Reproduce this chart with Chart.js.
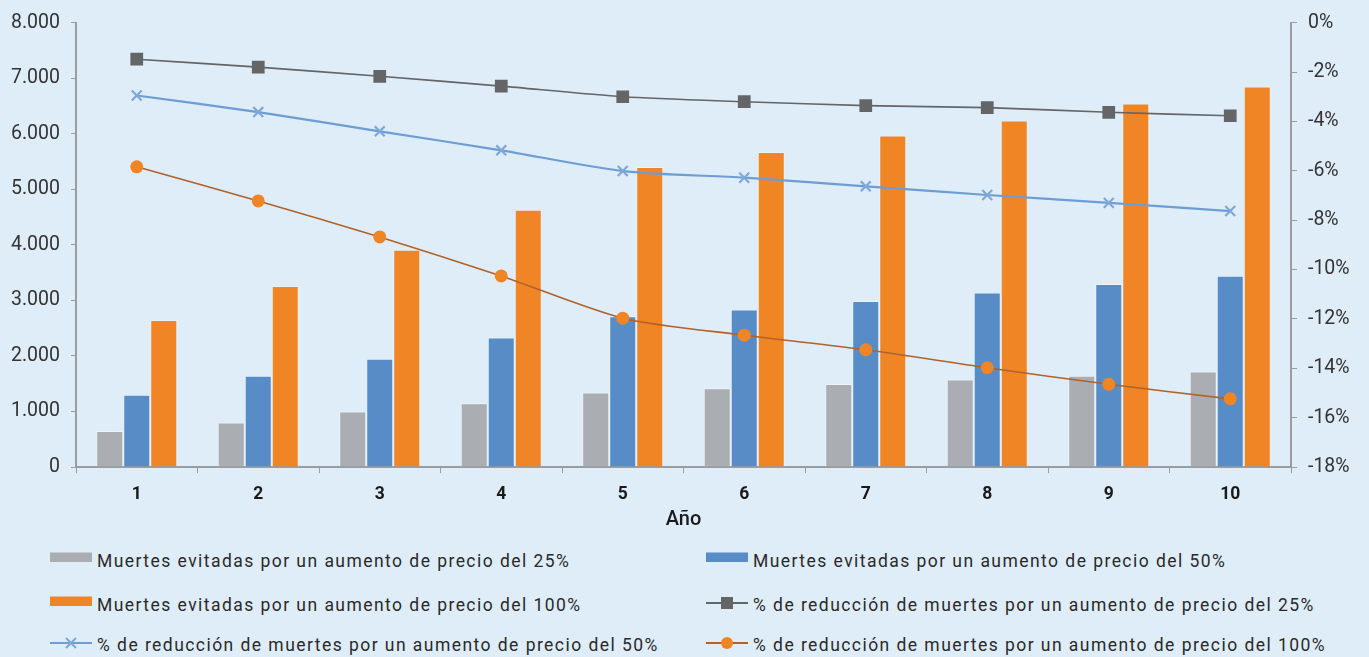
<!DOCTYPE html>
<html>
<head>
<meta charset="utf-8">
<script src="https://cdn.jsdelivr.net/npm/chart.js@4.4.1/dist/chart.umd.min.js"></script>
<style>
  html, body { margin:0; padding:0; background:#DFEDF8; }
  body { width:1369px; height:657px; position:relative; overflow:hidden; font-family:Roboto, "Noto Sans", sans-serif; }
  #wrap { position:absolute; left:0; top:0; width:1369px; height:540px; }
  .lg { position:absolute; height:20px; display:flex; align-items:center; font-size:17.5px; letter-spacing:1.45px; color:#2a2a2a; white-space:nowrap; }
  .lg svg { margin-right:5px; }
</style>
</head>
<body>
<div id="wrap"><canvas id="c"></canvas></div>
<div id="legend"></div>
<script>
const categories = ['1','2','3','4','5','6','7','8','9','10'];
const deaths25  = [650, 800, 1000, 1150, 1340, 1420, 1495, 1575, 1645, 1720];
const deaths50  = [1300, 1645, 1950, 2330, 2715, 2835, 2990, 3140, 3295, 3445];
const deaths100 = [2645, 3260, 3910, 4630, 5400, 5670, 5970, 6240, 6545, 6850];
const pct25  = [-1.48, -1.80, -2.17, -2.57, -3.00, -3.20, -3.36, -3.44, -3.63, -3.77];
const pct50  = [-2.95, -3.62, -4.40, -5.17, -6.01, -6.28, -6.63, -6.98, -7.30, -7.63];
const pct100 = [-5.84, -7.22, -8.68, -10.26, -11.97, -12.66, -13.25, -13.98, -14.65, -15.24];
const labels = [
  'Muertes evitadas por un aumento de precio del 25%',
  'Muertes evitadas por un aumento de precio del 50%',
  'Muertes evitadas por un aumento de precio del 100%',
  '% de reducción de muertes por un aumento de precio del 25%',
  '% de reducción de muertes por un aumento de precio del 50%',
  '% de reducción de muertes por un aumento de precio del 100%'
];

const cGray = '#AAADB1', cBlue = '#588CC6', cOrange = '#F08526';
const cLine25 = '#646567', cLine50 = '#6D9DD4', cLine100 = '#B0622A', cCross = '#7FA8DA';
const axisColor = '#9A9C9F';
const tickFont = { family: 'Roboto', size: 19.5 };

const barDs = (label, data, color) => ({
  type: 'bar', label, data, backgroundColor: color, borderColor: 'rgba(255,255,255,0.35)',
  borderWidth: 1, yAxisID: 'y', order: 2, categoryPercentage: 0.667, barPercentage: 1.0
});

new Chart(document.getElementById('c'), {
  data: {
    labels: categories,
    datasets: [
      barDs(labels[0], deaths25, cGray),
      barDs(labels[1], deaths50, cBlue),
      barDs(labels[2], deaths100, cOrange),
      { type:'line', label: labels[3], data: pct25, yAxisID:'y1', order:0,
        borderColor: cLine25, borderWidth: 1.6, tension: 0.25,
        pointStyle:'rect', pointRadius: 9, pointBackgroundColor: cLine25, pointBorderColor: cLine25, pointBorderWidth: 0 },
      { type:'line', label: labels[4], data: pct50, yAxisID:'y1', order:0,
        borderColor: cLine50, borderWidth: 2.2, tension: 0.25,
        pointStyle:'crossRot', pointRadius: 7, pointBorderColor: cCross, pointBorderWidth: 2.2 },
      { type:'line', label: labels[5], data: pct100, yAxisID:'y1', order:0,
        borderColor: cLine100, borderWidth: 1.6, tension: 0.25,
        pointStyle:'circle', pointRadius: 6.5, pointBackgroundColor: cOrange, pointBorderColor: cOrange, pointBorderWidth: 0 }
    ]
  },
  options: {
    responsive: true, maintainAspectRatio: false, animation: false,
    layout: { padding: { top: 20, left: 0, right: 0, bottom: 0 } },
    plugins: { legend: { display: false }, tooltip: { enabled: false } },
    scales: {
      x: {
        grid: { drawOnChartArea: false, drawTicks: true, tickLength: 6, color: axisColor, offset: true },
        border: { display: true, color: axisColor, width: 2 },
        ticks: { color: '#1a1a1a', font: { family:'Roboto', size: 17.5, weight: 'bold' }, padding: 11 },
        title: { display: true, text: 'Año', color: '#1a1a1a', font: { family:'Roboto', size: 20, weight: '500' }, padding: { top: 2, bottom: 8 } },
        afterFit: s => { s.height = 73; }
      },
      y: {
        position: 'left', min: 0, max: 8000,
        ticks: { stepSize: 1000, color: '#333', font: tickFont, padding: 11,
          callback: v => v === 0 ? '0' : (v/1000).toFixed(0) + '.000' },
        grid: { drawOnChartArea: false, drawTicks: true, tickLength: 5, color: axisColor },
        border: { display: true, color: axisColor, width: 2 },
        afterFit: s => { s.width = 76; }
      },
      y1: {
        position: 'right', min: -18, max: 0,
        ticks: { stepSize: 2, color: '#333', font: tickFont, padding: 11, callback: v => v + '%' },
        grid: { drawOnChartArea: false, drawTicks: true, tickLength: 6, color: axisColor },
        border: { display: true, color: axisColor, width: 2 },
        afterFit: s => { s.width = 78; }
      }
    }
  }
});

// HTML legend (two columns)
const markers = [
  `<svg width="42" height="20"><rect x="0" y="1.5" width="42" height="9.5" fill="${cGray}"/></svg>`,
  `<svg width="42" height="20"><rect x="0" y="1.5" width="42" height="9.5" fill="${cBlue}"/></svg>`,
  `<svg width="42" height="20"><rect x="0" y="1.5" width="42" height="9.5" fill="${cOrange}"/></svg>`,
  `<svg width="42" height="20"><line x1="0" y1="8" x2="42" y2="8" stroke="${cLine25}" stroke-width="2"/><rect x="15" y="2" width="12" height="12" fill="${cLine25}"/></svg>`,
  `<svg width="42" height="20"><line x1="0" y1="8" x2="42" y2="8" stroke="${cLine50}" stroke-width="2"/><path d="M16 3 L26 13 M26 3 L16 13" stroke="${cCross}" stroke-width="2"/></svg>`,
  `<svg width="42" height="20"><line x1="0" y1="8" x2="42" y2="8" stroke="${cLine100}" stroke-width="2"/><circle cx="21" cy="8" r="6" fill="${cOrange}"/></svg>`
];
const pos = [[50,551],[706,551],[50,595],[706,595],[50,635],[706,635]];
const legendEl = document.getElementById('legend');
labels.forEach((t, i) => {
  const d = document.createElement('div');
  d.className = 'lg';
  d.style.left = pos[i][0] + 'px';
  d.style.top = pos[i][1] + 'px';
  d.innerHTML = markers[i] + '<span>' + t + '</span>';
  legendEl.appendChild(d);
});
</script>
</body>
</html>
